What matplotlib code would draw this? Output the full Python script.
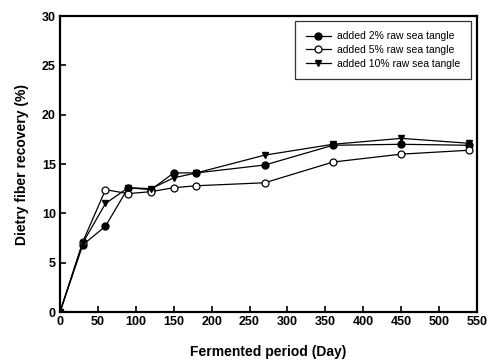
import matplotlib
matplotlib.use("Agg")
import matplotlib.pyplot as plt

plt.rcParams['font.family'] = ['Liberation Sans', 'DejaVu Sans']

days = [0, 30, 60, 90, 120, 150, 180, 270, 360, 450, 540]
raw2 = [0, 6.8, 8.7, 12.6, 12.4, 14.1, 14.1, 14.9, 16.9, 17.0, 16.9]
raw5 = [0, 7.1, 12.4, 12.0, 12.2, 12.6, 12.8, 13.1, 15.2, 16.0, 16.4]
raw10 = [0, 7.0, 11.0, 12.6, 12.5, 13.6, 14.1, 15.9, 17.0, 17.6, 17.1]
labels = ['added 2% raw sea tangle', 'added 5% raw sea tangle', 'added 10% raw sea tangle']
xticks = list(range(0, 551, 50))
yticks = list(range(0, 31, 5))

fig = plt.figure(figsize=(4.89, 3.62), dpi=100)
ax = fig.add_axes([0.1227, 0.138, 0.8528, 0.8178])

ax.plot(days, raw2, '-', color='black', lw=0.9, marker='o', ms=5, mfc='black', mec='black', label=labels[0])
ax.plot(days, raw5, '-', color='black', lw=0.9, marker='o', ms=5, mfc='white', mec='black', mew=0.9, label=labels[1])
ax.plot(days, raw10, '-', color='black', lw=0.9, marker='v', ms=5, mfc='black', mec='black', label=labels[2])

ax.set_xlim(0, 550)
ax.set_ylim(0, 30)
ax.set_xticks(xticks)
ax.set_yticks(yticks)
ax.tick_params(direction='in', length=4, width=1.2, labelsize=9, pad=3)
for lab in ax.get_xticklabels() + ax.get_yticklabels():
    lab.set_fontweight('bold')
for s in ax.spines.values():
    s.set_linewidth(1.6)

ax.set_xlabel('Fermented period (Day)', fontsize=10, fontweight='bold', labelpad=12)
ax.set_ylabel('Dietry fiber recovery (%)', fontsize=10, fontweight='bold', labelpad=9)

leg = ax.legend(loc='upper right', fontsize=7.5, frameon=True, fancybox=False,
                edgecolor='black', handlelength=2.4, borderpad=1.0, labelspacing=0.35,
                handletextpad=0.6, borderaxespad=0.2, bbox_to_anchor=(0.99, 0.99))
leg.get_frame().set_linewidth(0.9)

fig.savefig('out.png', dpi=100)
